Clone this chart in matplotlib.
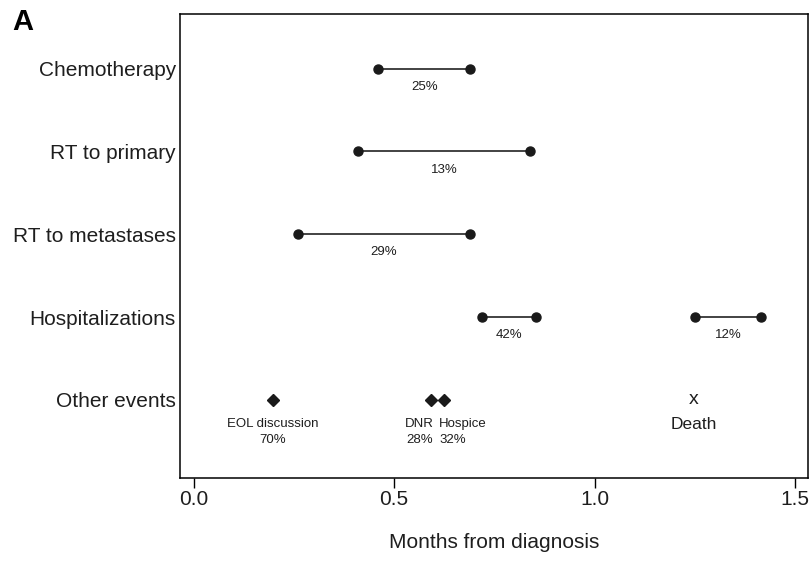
import matplotlib.pyplot as plt

plt.rcParams['font.family'] = ['Liberation Sans', 'DejaVu Sans']

# rows, top to bottom
categories = ['Chemotherapy', 'RT to primary', 'RT to metastases', 'Hospitalizations', 'Other events']
row_pos = [5, 4, 3, 2, 1]

# interval segments: (row index, start, end, label)
seg_rows = [0, 1, 2, 3, 3]
seg_start = [0.46, 0.41, 0.26, 0.72, 1.25]
seg_end = [0.69, 0.84, 0.69, 0.855, 1.415]
seg_pct = ['25%', '13%', '29%', '42%', '12%']

# other events (diamonds)
event_x = [0.198, 0.593, 0.625]
event_names = ['EOL discussion', 'DNR', 'Hospice']
event_pct = ['70%', '28%', '32%']
event_name_dx = [0, -0.03, 0.045]   # label nudges, in data units
event_pct_dx = [0, -0.03, 0.02]
death_x = 1.248

txt = '#1e1e1e'

fig = plt.figure(figsize=(8.12, 5.61), dpi=100)
ax = fig.add_axes([0.2217, 0.148, 0.7733, 0.827])

for r, x0, x1, pct in zip(seg_rows, seg_start, seg_end, seg_pct):
    y = row_pos[r]
    ax.plot([x0, x1], [y, y], color='#222222', lw=1.2, marker='o', ms=6.5,
            mfc='#1a1a1a', mec='#1a1a1a')
    ax.annotate(pct, ((x0 + x1) / 2, y), xytext=(0, -13), textcoords='offset points',
                ha='center', va='center', fontsize=9.5, color=txt)

y_other = row_pos[4]
ax.plot(event_x, [y_other] * len(event_x), ls='none', marker='D', ms=6,
        color='#1a1a1a')
for x, name, pct, dn, dp in zip(event_x, event_names, event_pct, event_name_dx, event_pct_dx):
    ax.annotate(name, (x + dn, y_other), xytext=(0, -17.5), textcoords='offset points',
                ha='center', va='center', fontsize=9.5, color=txt)
    ax.annotate(pct, (x + dp, y_other), xytext=(0, -29), textcoords='offset points',
                ha='center', va='center', fontsize=9.5, color=txt)

ax.text(death_x, y_other, 'x', ha='center', va='center', fontsize=14, color=txt)
ax.annotate('Death', (death_x, y_other), xytext=(0, -17.5), textcoords='offset points',
            ha='center', va='center', fontsize=12.5, color=txt)

ax.set_xlim(-0.034, 1.532)
ax.set_ylim(0.057, 5.66)
ax.set_yticks(row_pos)
ax.set_yticklabels(categories, fontsize=15, color=txt)
ax.tick_params(axis='y', length=0, pad=3)
ax.set_xticks([0.0, 0.5, 1.0, 1.5])
ax.set_xticklabels(['0.0', '0.5', '1.0', '1.5'], fontsize=15, color=txt)
ax.tick_params(axis='x', length=7, width=1, pad=2)
ax.set_xlabel('Months from diagnosis', fontsize=15, labelpad=17, color=txt)
for s in ax.spines.values():
    s.set_linewidth(1.1)

fig.text(0.015, 0.96, 'A', fontsize=21, fontweight='bold', va='center', ha='left')

fig.savefig('out.png', dpi=100)
